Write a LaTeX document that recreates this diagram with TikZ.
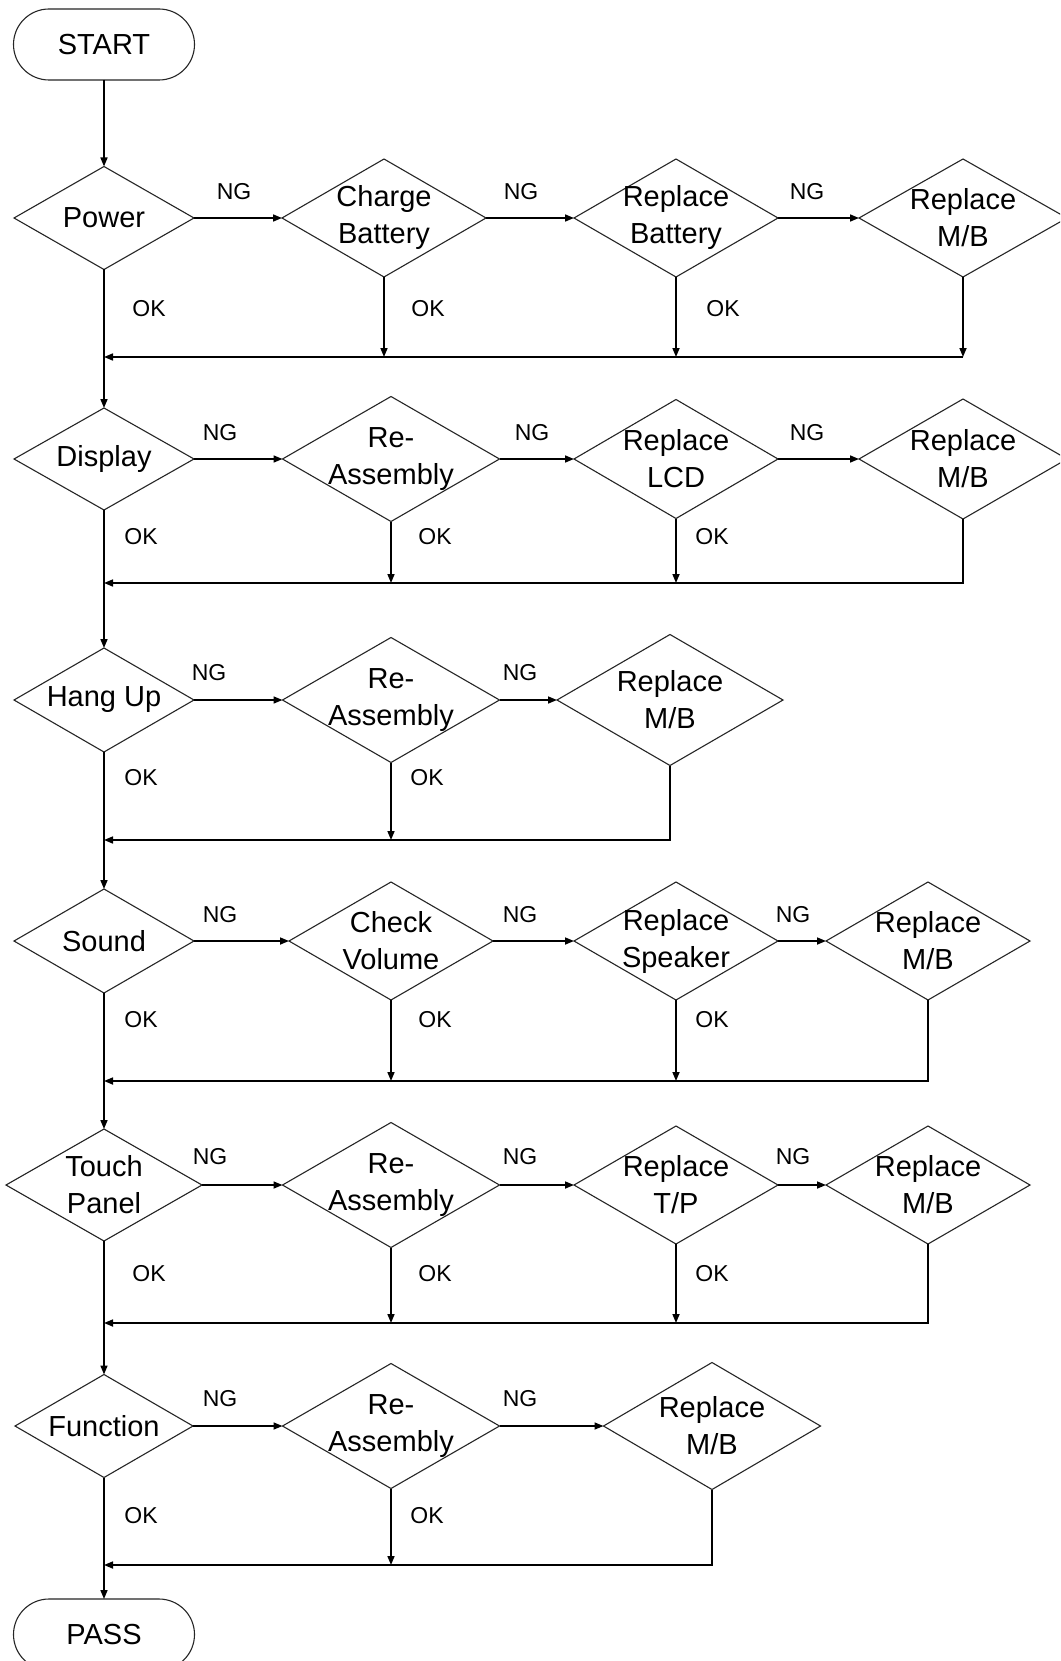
\documentclass[tikz,border=0pt]{standalone}
\usepackage{fontspec}
\setmainfont{Liberation Sans}
\usetikzlibrary{shapes.geometric,shapes.misc,arrows.meta}
\newcommand{\Dia}[6]{%
  \node[dia,minimum width=#4pt,minimum height=#5pt] (#1) at (#2,-#3) {};
  \node[dtxt] (#1t) at (#1.center) {#6};}
\begin{document}
\begin{tikzpicture}[x=1pt,y=1pt,
  dia/.style={draw=black!85,line width=1.1pt,shape=diamond,inner sep=0pt,outer sep=0pt},
  dtxt/.style={font=\fontsize{29}{37}\selectfont,align=center,inner sep=0pt},
  term/.style={draw=black!85,line width=1.1pt,rounded rectangle,minimum width=181pt,minimum height=71pt,inner sep=0pt,outer sep=0pt,font=\fontsize{29}{35}\selectfont},
  lbl/.style={font=\fontsize{23}{28}\selectfont,inner sep=0pt},
  conn/.style={line width=1.6pt,-{Triangle[length=9pt,width=7pt]}},
  plain/.style={line width=1.6pt}]
\useasboundingbox (0,0) rectangle (1060,-1661);
\clip (0,0) rectangle (1060,-1661);
\fill[white] (0,0) rectangle (1060,-1661);

% terminals
\node[term] (st) at (104,-44.5) {START};
\node[term] (ps) at (104,-1634.5) {PASS};

% row 1
\Dia{pw}{104}{218}{180}{103}{Power}
\Dia{cb}{384}{218}{204}{118}{Charge\\Battery}
\Dia{rb}{676}{218}{204}{118}{Replace\\Battery}
\Dia{mba}{963}{218}{208}{118}{Replace\\M/B}
% row 2
\Dia{dp}{104}{459}{180}{102}{Display}
\Dia{raa}{391}{459}{217}{125}{Re-\\Assembly}
\Dia{rl}{676}{459}{204}{119}{Replace\\LCD}
\Dia{mbb}{963}{459}{208}{120}{Replace\\M/B}
% row 3
\Dia{hu}{104}{700}{180}{104}{Hang Up}
\Dia{rab}{391}{700}{217}{125}{Re-\\Assembly}
\Dia{mbc}{670}{700}{226}{131}{Replace\\M/B}
% row 4
\Dia{sd}{104}{941}{180}{104}{Sound}
\Dia{cv}{391}{941}{204}{118}{Check\\Volume}
\Dia{rs}{676}{941}{204}{118}{Replace\\Speaker}
\Dia{mbd}{928}{941}{204}{118}{Replace\\M/B}
% row 5
\Dia{tp}{104}{1185}{196}{112}{Touch\\Panel}
\Dia{rac}{391}{1185}{217}{125}{Re-\\Assembly}
\Dia{rt}{676}{1185}{204}{118}{Replace\\T/P}
\Dia{mbe}{928}{1185}{204}{118}{Replace\\M/B}
% row 6
\Dia{fn}{104}{1426}{178}{103}{Function}
\Dia{rad}{391}{1426}{217}{125}{Re-\\Assembly}
\Dia{mbf}{712}{1426}{217}{127}{Replace\\M/B}

% return points on the main column
\coordinate (ret1) at (104,-357);
\coordinate (ret2) at (104,-583);
\coordinate (ret3) at (104,-840);
\coordinate (ret4) at (104,-1081);
\coordinate (ret5) at (104,-1323);
\coordinate (ret6) at (104,-1565);

% main column
\draw[conn] (st.south) -- (pw.north);
\draw[conn] (pw.south) -- (dp.north);
\draw[conn] (dp.south) -- (hu.north);
\draw[conn] (hu.south) -- (sd.north);
\draw[conn] (sd.south) -- (tp.north);
\draw[conn] (tp.south) -- (fn.north);
\draw[conn] (fn.south) -- (ps.north);

% NG chains
\draw[conn] (pw.east) -- (cb.west);
\draw[conn] (cb.east) -- (rb.west);
\draw[conn] (rb.east) -- (mba.west);
\draw[conn] (dp.east) -- (raa.west);
\draw[conn] (raa.east) -- (rl.west);
\draw[conn] (rl.east) -- (mbb.west);
\draw[conn] (hu.east) -- (rab.west);
\draw[conn] (rab.east) -- (mbc.west);
\draw[conn] (sd.east) -- (cv.west);
\draw[conn] (cv.east) -- (rs.west);
\draw[conn] (rs.east) -- (mbd.west);
\draw[conn] (tp.east) -- (rac.west);
\draw[conn] (rac.east) -- (rt.west);
\draw[conn] (rt.east) -- (mbe.west);
\draw[conn] (fn.east) -- (rad.west);
\draw[conn] (rad.east) -- (mbf.west);

% OK drops and return lines
\draw[conn] (cb.south) -- (cb.south |- ret1);
\draw[conn] (rb.south) -- (rb.south |- ret1);
\draw[conn] (mba.south) -- (mba.south |- ret1);
\draw[conn] (mba.south |- ret1) -- (ret1);

\draw[conn] (raa.south) -- (raa.south |- ret2);
\draw[conn] (rl.south) -- (rl.south |- ret2);
\draw[conn] (mbb.south) |- (ret2);

\draw[conn] (rab.south) -- (rab.south |- ret3);
\draw[conn] (mbc.south) |- (ret3);

\draw[conn] (cv.south) -- (cv.south |- ret4);
\draw[conn] (rs.south) -- (rs.south |- ret4);
\draw[conn] (mbd.south) |- (ret4);

\draw[conn] (rac.south) -- (rac.south |- ret5);
\draw[conn] (rt.south) -- (rt.south |- ret5);
\draw[conn] (mbe.south) |- (ret5);

\draw[conn] (rad.south) -- (rad.south |- ret6);
\draw[conn] (mbf.south) |- (ret6);

% labels
\node[lbl] (n11) at (234,-192) {NG};
\node[lbl] (n12) at (521,-192) {NG};
\node[lbl] (n13) at (807,-192) {NG};
\node[lbl] (o11) at (149,-309) {OK};
\node[lbl] (o12) at (428,-309) {OK};
\node[lbl] (o13) at (723,-309) {OK};

\node[lbl] (n21) at (220,-433) {NG};
\node[lbl] (n22) at (532,-433) {NG};
\node[lbl] (n23) at (807,-433) {NG};
\node[lbl] (o21) at (141,-537) {OK};
\node[lbl] (o22) at (435,-537) {OK};
\node[lbl] (o23) at (712,-537) {OK};

\node[lbl] (n31) at (209,-673) {NG};
\node[lbl] (n32) at (520,-673) {NG};
\node[lbl] (o31) at (141,-778) {OK};
\node[lbl] (o32) at (427,-778) {OK};

\node[lbl] (n41) at (220,-915) {NG};
\node[lbl] (n42) at (520,-915) {NG};
\node[lbl] (n43) at (793,-915) {NG};
\node[lbl] (o41) at (141,-1020) {OK};
\node[lbl] (o42) at (435,-1020) {OK};
\node[lbl] (o43) at (712,-1020) {OK};

\node[lbl] (n51) at (210,-1157) {NG};
\node[lbl] (n52) at (520,-1157) {NG};
\node[lbl] (n53) at (793,-1157) {NG};
\node[lbl] (o51) at (149,-1274) {OK};
\node[lbl] (o52) at (435,-1274) {OK};
\node[lbl] (o53) at (712,-1274) {OK};

\node[lbl] (n61) at (220,-1399) {NG};
\node[lbl] (n62) at (520,-1399) {NG};
\node[lbl] (o61) at (141,-1516) {OK};
\node[lbl] (o62) at (427,-1516) {OK};
\end{tikzpicture}
\end{document}
